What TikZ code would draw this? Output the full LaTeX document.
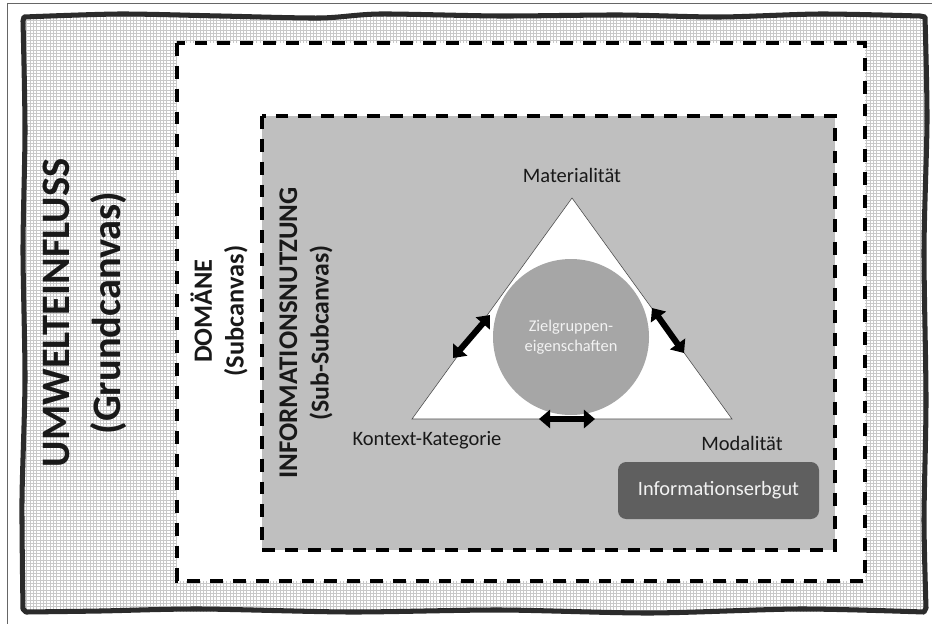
\documentclass[tikz,border=0pt]{standalone}
\usepackage{fontspec}
\setmainfont{Carlito}
\usepackage{xcolor}
\usepackage{tikz}
\usetikzlibrary{arrows.meta}
\usetikzlibrary{positioning}
\definecolor{rahmen}{HTML}{2B2B2B}
\definecolor{gitter}{HTML}{C8C8C8}
\definecolor{nutzung}{HTML}{BFBFBF}
\definecolor{kreis}{HTML}{A6A6A6}
\definecolor{erbbox}{HTML}{5F5F5F}
\tikzset{
    canvasbox/.style = {draw=black, line width=3pt, line cap=butt, dash pattern=on 11pt off 8.5pt},
    titel/.style = {rotate=90, align=center, text=black!90},
    ecke/.style = {font=\fontsize{17.5}{20}\selectfont, text=black!90},
    doppelpfeil/.style = {{Triangle[length=9.5pt,width=15.5pt]}-{Triangle[length=9.5pt,width=15.5pt]}, line width=5.2pt, black},
}

\begin{document}
\begin{tikzpicture}[x=0.3mm, y=-0.3mm]
\tikzset{
    zielkreis/.style = {circle, fill=kreis, minimum size=46.8mm, inner sep=0pt, align=center, text=white!95!black, font=\fontsize{14}{17}\selectfont},
    erbgut/.style = {rounded corners=7pt, fill=erbbox, minimum width=60.3mm, minimum height=17.1mm, text=white!95!black, font=\fontsize{17.4}{21}\selectfont},
    dreieck/.style = {draw=black!70, line width=0.5pt, fill=white}
}
\useasboundingbox (0,0) rectangle (932,624);
\draw[black!60, line width=0.8pt] (7,3) -- (940,3) (7,3) -- (7,640);
%
% Grundcanvas
\draw[gitter, line width=0.45pt, xstep=1mm, ystep=1mm] (24,16) grid (925,612);
\draw[rahmen, line width=4.3pt, line join=round] plot[smooth, tension=0.45] coordinates {
    (24,17) (120,14) (220,16) (320,18) (380,14) (500,16) (620,15) (720,17) (820,14) (920,16)}
    -- plot[smooth, tension=0.45] coordinates {
    (925,17) (927,120) (924,250) (926,400) (924,520) (926,608)}
    -- plot[smooth, tension=0.45] coordinates {
    (924,612) (800,609) (650,613) (500,610) (350,612) (200,609) (100,611) (26,612)}
    -- plot[smooth, tension=0.45] coordinates {
    (23,609) (22,500) (25,380) (23,250) (25,130) (23,21)} -- cycle;
\draw[canvasbox, fill=white] (177,43) rectangle (865,581);
\draw[canvasbox, fill=nutzung] (262,116) rectangle (835,550);
%
\node[titel, font=\bfseries\fontsize{34.5}{44}\selectfont] at (85,313) (umwelt) {UMWELTEINFLUSS\\(Grundcanvas)};
\node[titel, font=\bfseries\fontsize{22.5}{27}\selectfont] at (219,311) (domaene) {DOMÄNE\\(Subcanvas)};
\node[titel, font=\bfseries\fontsize{22}{27}\selectfont] at (306,333) (info) {{\fontsize{23}{27}\selectfont INFORMATIONSNUTZUNG}\\(Sub-Subcanvas)};
%
\coordinate (mat) at (572,198);
\coordinate (kon) at (412,419);
\coordinate (mod) at (732,419);
\draw[dreieck] (mat) -- (kon) -- (mod) -- cycle;
\node[zielkreis] at (571,337) (ziel) {Zielgruppen-\\eigenschaften};
%
\node[ecke] at (572,175) (materialitaet) {Materialität};
\node[ecke] at (427,440) (kontext) {Kontext-Kategorie};
\node[ecke] at (742,443) (modalitaet) {Modalität};
%
\coordinate (l1) at (453,358);
\coordinate (l2) at (490,315);
\coordinate (r1) at (652,308);
\coordinate (r2) at (684,353);
\coordinate (u1) at (539,419);
\coordinate (u2) at (595,419);
\draw[doppelpfeil] (l1) -- (l2);
\draw[doppelpfeil] (r1) -- (r2);
\draw[doppelpfeil] (u1) -- (u2);
%
\node[erbgut] at (718.5,490.5) (erbgutbox) {Informationserbgut};
\end{tikzpicture}
\end{document}
